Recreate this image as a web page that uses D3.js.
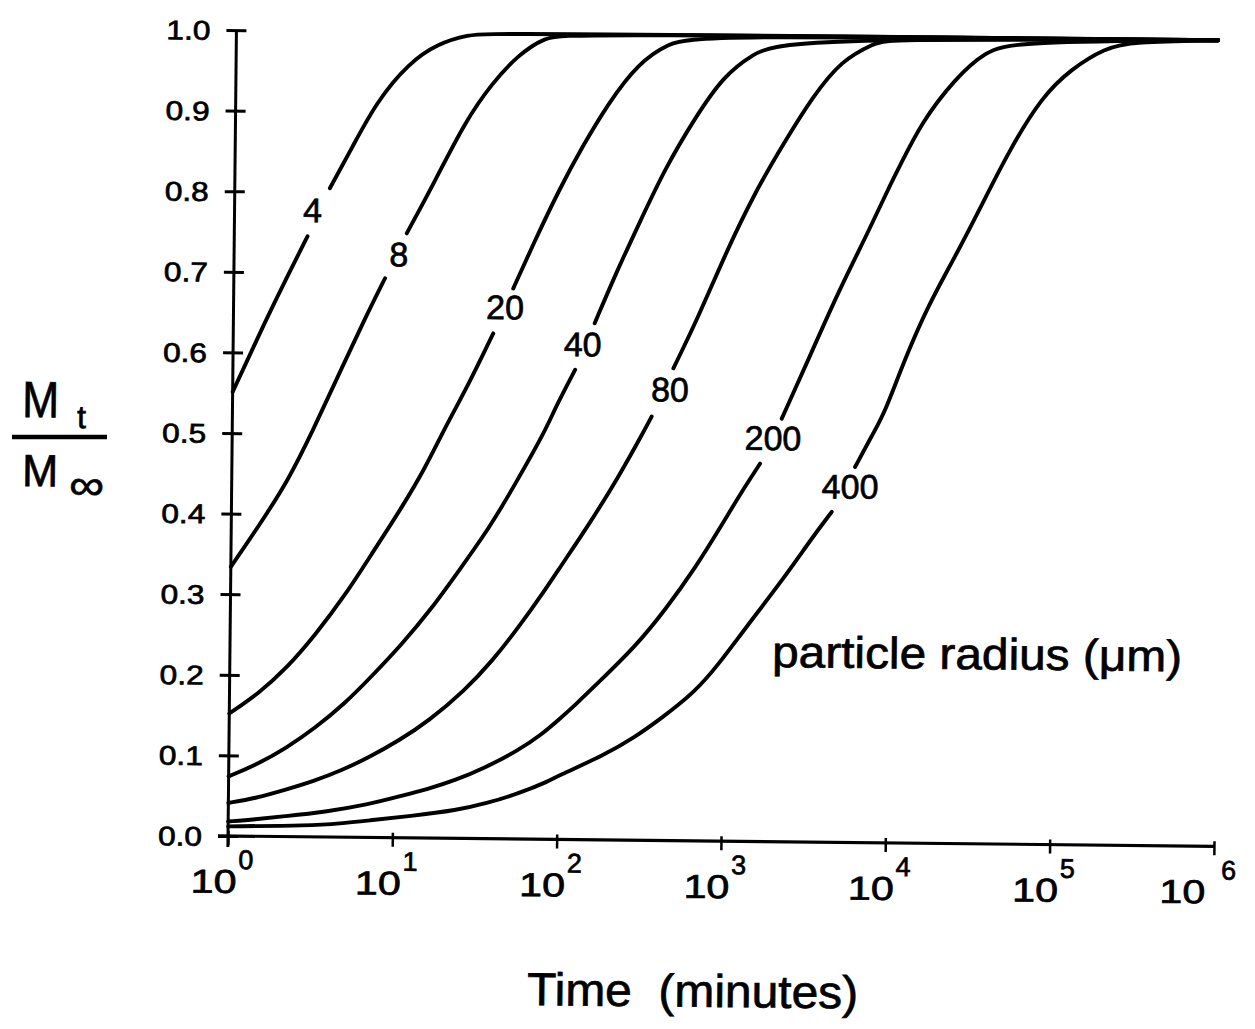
<!DOCTYPE html>
<html>
<head>
<meta charset="utf-8">
<script src="https://cdn.jsdelivr.net/npm/d3@7"></script>
<style>
  body { margin: 0; background: #fff; }
  text { font-family: "Liberation Sans", Arial, Helvetica, sans-serif; fill: #000;
         stroke: #000; stroke-width: 0.7px; }
</style>
</head>
<body>
<svg id="chart" width="1255" height="1029"></svg>
<script>
// Fractional release Mt/M∞ versus time (minutes) for spheres of different radius.
// Each series: [time in minutes, Mt/M∞]; a null entry marks where the curve
// is interrupted to make room for its radius label.
const radii = ["4", "8", "20", "40", "80", "200", "400"];

const r4 = [[1, 0.551], [1.58, 0.641], [2.08, 0.692], [2.79, 0.745], null,
  [3.79, 0.805], [5.12, 0.855], [7.21, 0.913], [11.2, 0.961], [16.9, 0.986],
  [25.8, 0.997], [35.7, 1.0], [942000, 1.0]];

const r8 = [[1, 0.334], [1.46, 0.384], [2.21, 0.442], [3.11, 0.505], [4.39, 0.573],
  [6.32, 0.644], [8.32, 0.694], null, [11.2, 0.750], [16.5, 0.815], [24.9, 0.889],
  [36.1, 0.937], [52.1, 0.973], [75.5, 0.995], [105, 1.0], [942000, 1.0]];

const r20 = [[1, 0.152], [1.50, 0.177], [2.22, 0.209], [3.28, 0.250], [4.98, 0.300],
  [7.35, 0.355], [10.9, 0.410], [15.0, 0.459], [19.2, 0.505], [27.2, 0.563],
  [38.2, 0.627], null, [50.2, 0.683], [70.8, 0.752], [95.3, 0.808], [128, 0.858],
  [185, 0.914], [280, 0.964], [426, 0.989], [647, 1.0], [942000, 1.0]];

const r40 = [[1, 0.074], [1.45, 0.088], [2.24, 0.110], [3.33, 0.135], [5.05, 0.166],
  [7.31, 0.200], [11.1, 0.240], [16.8, 0.285], [24.2, 0.331], [37.6, 0.387],
  [53.0, 0.440], [80.0, 0.506], [91.8, 0.535], [121, 0.583], null, [158, 0.641],
  [213, 0.705], [287, 0.763], [414, 0.834], [625, 0.897], [925, 0.949],
  [1371, 0.976], [2183, 0.997], [942000, 1.0]];

const r80 = [[1, 0.041], [1.45, 0.047], [2.21, 0.058], [3.28, 0.069], [4.88, 0.083],
  [7.06, 0.099], [10.7, 0.120], [16.3, 0.145], [27.1, 0.184], [39.3, 0.220],
  [56.6, 0.262], [81.8, 0.309], [101, 0.338], [149, 0.390], [225, 0.450],
  [317, 0.506], [356, 0.526], null, [479, 0.586], [675, 0.650], [948, 0.723],
  [1466, 0.806], [2213, 0.869], [3199, 0.923], [4842, 0.971], [7709, 0.992],
  [9226, 0.998], [942000, 1.0]];

const r200 = [[1, 0.018], [1.46, 0.021], [2.15, 0.025], [3.88, 0.031], [7.11, 0.041],
  [10.8, 0.051], [16.4, 0.061], [23.9, 0.072], [36.3, 0.088], [57.7, 0.110],
  [79.8, 0.130], [103, 0.150], [127, 0.167], [175, 0.195], [292, 0.240],
  [442, 0.286], [668, 0.338], [964, 0.392], [1271, 0.434], [1637, 0.469], null,
  [2203, 0.525], [3319, 0.608], [4775, 0.683], [7211, 0.758], [9705, 0.816],
  [10864, 0.836], [15000, 0.895], [23770, 0.949], [36060, 0.983], [54830, 0.996],
  [942000, 1.0]];

const r400 = [[1, 0.012], [3.15, 0.014], [4.80, 0.017], [7.10, 0.021], [12.8, 0.027],
  [24.7, 0.035], [37.5, 0.044], [59.4, 0.057], [90.4, 0.073], [96.8, 0.077],
  [195, 0.106], [295, 0.128], [428, 0.152], [681, 0.185], [940, 0.219],
  [1358, 0.264], [2360, 0.329], [3412, 0.377], [4498, 0.410], null, [6194, 0.466],
  [8147, 0.512], [9354, 0.535], [12270, 0.601], [16900, 0.668], [24380, 0.728],
  [33570, 0.784], [50700, 0.859], [80350, 0.928], [121600, 0.963],
  [193600, 0.989], [281200, 0.997], [942000, 1.0]];

const seriesValues = [r4, r8, r20, r40, r80, r200, r400];

// Where each radius label sits: [time in minutes, Mt/M∞]
const labelTimes = [2.98, 10.07, 44.9, 134, 458, 1954, 5794];
const labelLevels = [0.778, 0.724, 0.660, 0.615, 0.560, 0.501, 0.442];

const yTicks = [0, 0.1, 0.2, 0.3, 0.4, 0.5, 0.6, 0.7, 0.8, 0.9, 1.0];
const xTickExponents = [0, 1, 2, 3, 4, 5, 6];

// ---- layout ----
const tilt = 0.6;            // the whole sheet sits slightly rotated
const originX = 228, originY = 836;

const svg = d3.select("#chart");
svg.append("rect").attr("width", 1255).attr("height", 1029).attr("fill", "#fff");

const x = d3.scaleLog().domain([1, 1e6]).range([originX, 1214]);
const y = d3.scaleLinear().domain([0, 1]).range([originY, 30]);

const plot = svg.append("g")
  .attr("transform", `rotate(${tilt},${originX},${originY})`);

// ---- axes ----
const yAxis = d3.axisLeft(y).tickValues(yTicks).tickFormat(d3.format(".1f"))
  .tickSize(10).tickSizeOuter(0).tickPadding(16);
const yG = plot.append("g").attr("transform", `translate(${originX},0)`).call(yAxis);
yG.select(".domain").remove();
yG.selectAll(".tick line").attr("x1", -10).attr("x2", 10)
  .attr("stroke", "#000").attr("stroke-width", 3);
yG.selectAll(".tick text")
  .attr("x", -26).attr("dy", "0.35em")
  .attr("font-size", 27).attr("textLength", 44).attr("lengthAdjust", "spacingAndGlyphs")
  .attr("fill", "#000")
  .style("font-family", '"Liberation Sans", Arial, sans-serif');

const xAxis = d3.axisBottom(x).tickValues(xTickExponents.map(e => Math.pow(10, e)))
  .tickFormat("").tickSize(9).tickSizeOuter(0);
const xG = plot.append("g").attr("transform", `translate(0,${originY})`).call(xAxis);
xG.select(".domain").remove();
xG.selectAll(".tick line").attr("y1", -5).attr("y2", 9)
  .attr("stroke", "#000").attr("stroke-width", 2.5);

// axis lines
plot.append("line")
  .attr("x1", x(1) - 10).attr("x2", x(1e6))
  .attr("y1", y(0)).attr("y2", y(0))
  .attr("stroke", "#000").attr("stroke-width", 3.2);
plot.append("line")
  .attr("x1", x(1)).attr("x2", x(1))
  .attr("y1", y(0) + 11).attr("y2", y(1))
  .attr("stroke", "#000").attr("stroke-width", 3);

// decade labels: "10" with a raised exponent
xTickExponents.forEach((e, i) => {
  const tx = x(Math.pow(10, e));
  const last = i === xTickExponents.length - 1;
  const g = xG.append("g").attr("transform", `translate(${tx},0)`);
  g.append("text").attr("x", last ? -31 : -14).attr("y", 57).attr("text-anchor", "middle")
    .attr("font-size", 33).attr("textLength", 46).attr("lengthAdjust", "spacingAndGlyphs")
    .text("10");
  g.append("text").attr("x", last ? 15 : 18).attr("y", 33)
    .attr("font-size", 27).text(String(e));
});

// ---- curves ----
const line = d3.line()
  .defined(d => d !== null)
  .x(d => x(d[0]))
  .y(d => y(d[1]))
  .curve(d3.curveBasis);

plot.append("g").selectAll("path")
  .data(seriesValues)
  .join("path")
  .attr("d", line)
  .attr("fill", "none")
  .attr("stroke", "#000")
  .attr("stroke-width", 3.9)
  .attr("stroke-linejoin", "round")
  .attr("stroke-linecap", "round");

plot.append("g").selectAll("text")
  .data(radii)
  .join("text")
  .attr("x", (d, i) => x(labelTimes[i]))
  .attr("y", (d, i) => y(labelLevels[i]))
  .attr("dy", "0.36em")
  .attr("text-anchor", "middle")
  .attr("font-size", 34)
  .text(d => d);

// ---- titles ----
function tiltedText(px, py) {
  return svg.append("text").attr("transform", `translate(${px},${py}) rotate(${tilt})`);
}

tiltedText(772, 667).attr("font-size", 44)
  .attr("textLength", 410).attr("lengthAdjust", "spacingAndGlyphs")
  .text("particle radius (\u03bcm)");

tiltedText(527, 1005).attr("font-size", 46).style("white-space", "pre")
  .attr("textLength", 331).attr("lengthAdjust", "spacingAndGlyphs")
  .text("Time  (minutes)");

// Mt / M∞ fraction
tiltedText(22, 417).attr("font-size", 51)
  .attr("textLength", 37).attr("lengthAdjust", "spacingAndGlyphs").text("M");
tiltedText(77, 428).attr("font-size", 32).text("t");
svg.append("line").attr("x1", 12).attr("x2", 107).attr("y1", 437).attr("y2", 437)
  .attr("stroke", "#000").attr("stroke-width", 4.5);
tiltedText(22, 486).attr("font-size", 45)
  .attr("textLength", 36).attr("lengthAdjust", "spacingAndGlyphs").text("M");
tiltedText(69, 499).attr("font-size", 42)
  .attr("textLength", 35).attr("lengthAdjust", "spacingAndGlyphs").text("\u221e");
</script>
</body>
</html>
